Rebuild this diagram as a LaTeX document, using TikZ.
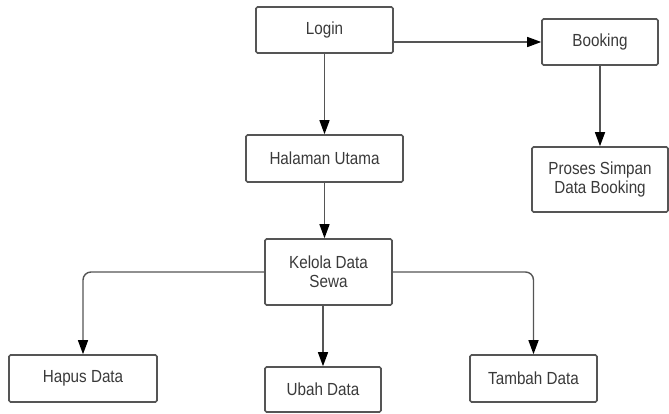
\documentclass[tikz,border=0pt]{standalone}
\usepackage{fontspec}
\setmainfont{Liberation Sans}[FakeStretch=0.87]
\usetikzlibrary{arrows.meta}
\definecolor{garis}{HTML}{555555}
\definecolor{teks}{HTML}{3A3A3A}
\tikzstyle{kotak} = [rectangle, draw=garis, line width=1.6pt, rounded corners=1.5pt, fill=white, text=teks, align=center, inner sep=0pt, font=\fontsize{17.5}{19}\selectfont]
\tikzstyle{arrow} = [line width=1.4pt, draw=garis, -{Triangle[length=14pt,width=10pt,color=black]}]

\begin{document}
\begin{tikzpicture}[x=1pt,y=-1pt]
\useasboundingbox (0,0) rectangle (669,413);
\node [kotak, minimum width=137pt, minimum height=46pt] (a) at (324.5,30) {Login};
\node [kotak, minimum width=116pt, minimum height=46pt] (a1) at (600,42) {Booking};
\node [kotak, minimum width=136pt, minimum height=65pt] (a1x) at (600,179.5) {Proses Simpan\\Data Booking};

\node [kotak, minimum width=157pt, minimum height=47pt] (b) at (324.5,158.5) {Halaman Utama};
\node [kotak, minimum width=127pt, minimum height=66pt] (c) at (328.5,272) {Kelola Data\\Sewa};

\node [kotak, minimum width=148pt, minimum height=47pt] (c1) at (83,378.5) {Hapus Data};
\node [kotak, minimum width=116pt, minimum height=45pt] (c2) at (323,389.5) {Ubah Data};
\node [kotak, minimum width=127pt, minimum height=47pt] (c3) at (533.5,378.5) {Tambah Data};

\draw [arrow] (a.east |- a1.west) to (a1.west);
\draw [arrow] (a.south) to (b.north);
\draw [arrow] (a1.south) to (a1x.north);
\draw [arrow] (b.south) to (b.south |- c.north);

\draw [arrow, rounded corners=8pt] (c.west) -| (c1.north);
\draw [arrow] (c2.north |- c.south) to (c2.north);
\draw [arrow, rounded corners=8pt] (c.east) -| (c3.north);
\end{tikzpicture}
\end{document}
